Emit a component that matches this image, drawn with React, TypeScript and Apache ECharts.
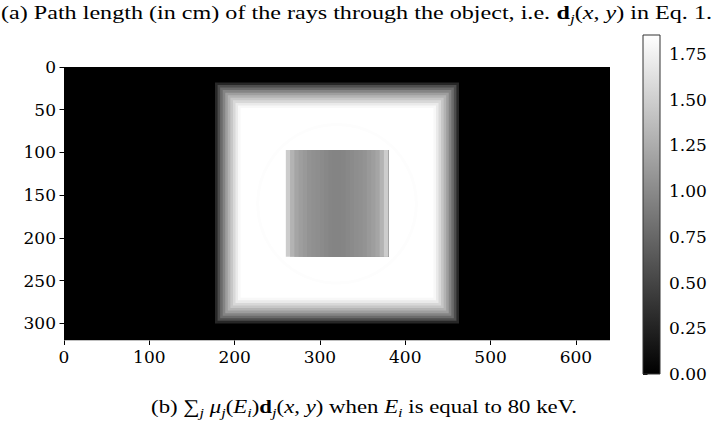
import React, { useEffect, useRef } from "react";
import * as echarts from "echarts";

// Image extent in pixels
const imageWidth = 640;
const imageHeight = 320;

// Tick values
const xTicks = [0, 100, 200, 300, 400, 500, 600];
const yTicks = [0, 50, 100, 150, 200, 250, 300];
const colorTicks = [0, 0.25, 0.5, 0.75, 1.0, 1.25, 1.5, 1.75];
const colorMax = 1.853;

// Object footprint [x0, y0, x1, y1] in pixels
const objectBox = [177, 18, 463, 300];
// Path length (cm) across the rounded rim, one value per step inward
const rimStep = 3;
const rimProfile = [0.28, 0.56, 0.78, 0.96, 1.15, 1.3, 1.44, 1.57, 1.7, 1.8];
const fullThickness = 1.85;

// Faint circular inclusion [cx, cy, r] and its path length
const ring = [320, 160, 93];
const ringValue = 1.835;

// Cylindrical cavity [x0, y0, x1, y1] and its column profile (cm)
const cavityBox = [260, 97, 380, 222];
const cavityStep = 5;
const cavityProfile = [
  1.48, 1.3, 1.2, 1.15, 1.11, 1.07, 1.05, 1.03, 1.01, 0.99, 0.97, 0.96,
  0.96, 0.97, 0.99, 1.01, 1.03, 1.05, 1.07, 1.11, 1.15, 1.2, 1.3, 1.48,
];

// Rect cells: [x0, y0, x1, y1, value], painted in order
const objectCells: number[][] = [[0, 0, imageWidth, imageHeight, 0]];
rimProfile.forEach((v, k) => {
  const d = k * rimStep;
  objectCells.push([objectBox[0] + d, objectBox[1] + d, objectBox[2] - d, objectBox[3] - d, v]);
});
{
  const d = rimProfile.length * rimStep;
  objectCells.push([objectBox[0] + d, objectBox[1] + d, objectBox[2] - d, objectBox[3] - d, fullThickness]);
}
const ringCells = [[ring[0] - ring[2], ring[1] - ring[2], ring[0] + ring[2], ring[1] + ring[2], ringValue]];
const cavityCells = cavityProfile.map((v, k) => [
  cavityBox[0] + k * cavityStep,
  cavityBox[1],
  cavityBox[2],
  cavityBox[3],
  v,
]);

const SERIF = "DejaVu Serif";
const TEXT = "Liberation Serif";

const rectItem = (_params: any, api: any) => {
  const a = api.coord([api.value(0), api.value(1)]);
  const b = api.coord([api.value(2), api.value(3)]);
  return {
    type: "rect",
    shape: {
      x: Math.min(a[0], b[0]),
      y: Math.min(a[1], b[1]),
      width: Math.abs(b[0] - a[0]),
      height: Math.abs(b[1] - a[1]),
    },
    style: { fill: api.visual("color") },
  };
};

const ringItem = (_params: any, api: any) => {
  const a = api.coord([api.value(0), api.value(1)]);
  const b = api.coord([api.value(2), api.value(3)]);
  return {
    type: "circle",
    shape: { cx: (a[0] + b[0]) / 2, cy: (a[1] + b[1]) / 2, r: Math.abs(b[0] - a[0]) / 2 },
    style: { fill: "none", stroke: api.visual("color"), lineWidth: 3 },
  };
};

const tickLabel = { fontFamily: SERIF, fontSize: 17, color: "#000" };
const tickMark = { show: true, inside: false, length: 4.5, lineStyle: { color: "#000", width: 1 } };

const FS = 19;
const rich = {
  b: { fontFamily: TEXT, fontSize: FS, fontWeight: "bold" },
  i: { fontFamily: TEXT, fontSize: FS, fontStyle: "italic" },
  sub: { fontFamily: TEXT, fontSize: 13.5, fontStyle: "italic", padding: [11, 0, 0, 0] },
};

export default function App() {
  const ref = useRef<HTMLDivElement>(null);

  useEffect(() => {
    if (!ref.current) return;
    const chart = echarts.init(ref.current, undefined, { renderer: "svg" });

    const plotH = 273.5;
    const plotW = 546;
    const cbTop = 35;
    const cbH = 339;
    const cbTickH = (cbH * colorTicks[colorTicks.length - 1]) / colorMax;

    chart.setOption({
      animation: false,
      backgroundColor: "#fff",
      grid: [
        { left: 64, top: 67, width: plotW, height: plotH },
        { left: 64, top: 67, width: (plotW * xTicks[xTicks.length - 1]) / imageWidth, height: plotH },
        { left: 64, top: 67, width: plotW, height: (plotH * yTicks[yTicks.length - 1]) / imageHeight },
        { left: 643, top: cbTop, width: 17, height: cbH },
        { left: 643, top: cbTop + cbH - cbTickH, width: 17, height: cbTickH },
      ],
      xAxis: [
        { gridIndex: 0, type: "value", min: 0, max: imageWidth, show: false },
        {
          gridIndex: 1,
          type: "value",
          min: xTicks[0],
          max: xTicks[xTicks.length - 1],
          interval: 100,
          axisLine: { show: false },
          axisTick: tickMark,
          axisLabel: { ...tickLabel, margin: 8 },
          splitLine: { show: false },
        },
        { gridIndex: 2, type: "value", min: 0, max: 1, show: false },
        { gridIndex: 3, type: "value", min: 0, max: 1, show: false },
        { gridIndex: 4, type: "value", min: 0, max: 1, show: false },
      ],
      yAxis: [
        { gridIndex: 0, type: "value", min: 0, max: imageHeight, inverse: true, show: false },
        { gridIndex: 1, type: "value", min: 0, max: 1, show: false },
        {
          gridIndex: 2,
          type: "value",
          min: yTicks[0],
          max: yTicks[yTicks.length - 1],
          interval: 50,
          inverse: true,
          axisLine: { show: false },
          axisTick: tickMark,
          axisLabel: { ...tickLabel, margin: 8 },
          splitLine: { show: false },
        },
        { gridIndex: 3, type: "value", min: 0, max: colorMax, show: false },
        {
          gridIndex: 4,
          type: "value",
          position: "right",
          min: colorTicks[0],
          max: colorTicks[colorTicks.length - 1],
          interval: 0.25,
          axisLine: { show: false },
          axisTick: tickMark,
          axisLabel: { ...tickLabel, margin: 9, formatter: (v: number) => v.toFixed(2) },
          splitLine: { show: false },
        },
      ],
      visualMap: {
        type: "continuous",
        show: false,
        min: 0,
        max: colorMax,
        dimension: 4,
        seriesIndex: [0, 1, 2],
        inRange: { color: ["#000000", "#ffffff"] },
      },
      series: [
        {
          type: "custom",
          name: "object",
          xAxisIndex: 0,
          yAxisIndex: 0,
          clip: true,
          renderItem: rectItem,
          data: objectCells,
        },
        {
          type: "custom",
          name: "inclusion",
          xAxisIndex: 0,
          yAxisIndex: 0,
          clip: true,
          renderItem: ringItem,
          data: ringCells,
        },
        {
          type: "custom",
          name: "cavity",
          xAxisIndex: 0,
          yAxisIndex: 0,
          clip: true,
          renderItem: rectItem,
          data: cavityCells,
        },
        {
          type: "custom",
          name: "colorbar",
          xAxisIndex: 3,
          yAxisIndex: 3,
          renderItem: (_p: any, api: any) => {
            const a = api.coord([0, 0]);
            const b = api.coord([1, colorMax]);
            return {
              type: "rect",
              shape: { x: a[0], y: b[1], width: b[0] - a[0], height: a[1] - b[1] },
              style: {
                fill: new echarts.graphic.LinearGradient(0, 1, 0, 0, [
                  { offset: 0, color: "#000000" },
                  { offset: 1, color: "#ffffff" },
                ]),
                stroke: "#333",
                lineWidth: 1,
              },
            };
          },
          data: [[0, colorMax]],
        },
      ],
      graphic: [
        {
          type: "text",
          x: 1,
          y: 0,
          scaleX: 1.27,
          style: {
            text: "(a) Path length (in cm) of the rays through the object, i.e. {b|d}{sub|j}({i|x}, {i|y}) in Eq. 1.",
            rich,
            fontFamily: TEXT,
            fontSize: FS,
            fill: "#000",
            align: "left",
            verticalAlign: "top",
          },
        },
        {
          type: "text",
          x: 364,
          y: 394,
          scaleX: 1.2,
          style: {
            text: "(b) \u2211{sub|j} {i|\u03bc}{sub|j}({i|E}{sub|i}){b|d}{sub|j}({i|x}, {i|y}) when {i|E}{sub|i} is equal to 80 keV.",
            rich,
            fontFamily: TEXT,
            fontSize: FS,
            fill: "#000",
            align: "center",
            verticalAlign: "top",
          },
        },
      ],
    });

    return () => chart.dispose();
  }, []);

  return (
    <div
      ref={ref}
      style={{ position: "absolute", left: 0, top: 0, width: 725, height: 429, background: "#fff" }}
    />
  );
}
